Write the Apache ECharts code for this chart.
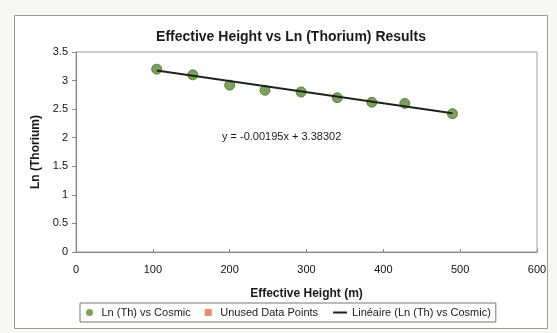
<!DOCTYPE html>
<html lang="en">
<head>
    <meta charset="UTF-8">
    <title>Effective Height vs Ln (Thorium) Results</title>
    <script src="https://cdn.jsdelivr.net/npm/echarts@6/dist/echarts.min.js"></script>
</head>
<body style="margin: 0; background: #f7f7f5">
    <div id="chart" style="width: 557px; height: 333px;"></div>
    <script>
        // values
        const heights = [105, 152, 200, 246, 293, 340, 385, 428, 490];
        const lnThorium = [3.2, 3.1, 2.92, 2.83, 2.8, 2.7, 2.62, 2.6, 2.42];
        const unusedPoints = [];
        // trend line end points as drawn
        const trendX = [105, 490];
        const trendY = [3.178, 2.428];
        const trendLabel = 'y = -0.00195x + 3.38302';

        const chart = echarts.init(document.getElementById('chart'));
        const font = 'Liberation Sans, Arial, sans-serif';

        const option = {
            animation: false,
            backgroundColor: 'transparent',
            title: {
                text: 'Effective Height vs Ln (Thorium) Results',
                left: 286, top: 25, textAlign: 'center',
                textStyle: { fontFamily: font, fontSize: 14, fontWeight: 'bold', color: '#1a1a1a' }
            },
            graphic: [
                {
                    type: 'rect', z: -10,
                    shape: { x: 14.5, y: 15.5, width: 533, height: 313 },
                    style: { fill: '#fff', stroke: '#9a9a9a', lineWidth: 1 }
                },
                {
                    type: 'text', left: 222, top: 131,
                    style: { text: trendLabel, font: '11px ' + font, fill: '#1a1a1a' }
                }
            ],
            grid: { left: 76, right: 20, top: 52, bottom: 81, show: true, borderColor: '#a0a0a0', borderWidth: 1 },
            xAxis: {
                type: 'value', min: 0, max: 600, interval: 100,
                name: 'Effective Height (m)', nameLocation: 'middle', nameGap: 36,
                nameTextStyle: { fontFamily: font, fontSize: 12, fontWeight: 'bold', color: '#1a1a1a' },
                axisLine: { show: true, lineStyle: { color: '#888' } },
                axisTick: { show: true, inside: true, length: 3, lineStyle: { color: '#888' } },
                splitLine: { show: false },
                axisLabel: { fontFamily: font, fontSize: 11, color: '#111', margin: 12 }
            },
            yAxis: {
                type: 'value', min: 0, max: 3.5, interval: 0.5,
                name: 'Ln (Thorium)', nameLocation: 'middle', nameGap: 32, nameRotate: 90,
                nameTextStyle: { fontFamily: font, fontSize: 12, fontWeight: 'bold', color: '#1a1a1a' },
                axisLine: { show: true, lineStyle: { color: '#888' } },
                axisTick: { show: true, length: 4, lineStyle: { color: '#888' } },
                splitLine: { show: false },
                axisLabel: { fontFamily: font, fontSize: 11, color: '#111', margin: 8 }
            },
            legend: {
                left: 80, top: 303,
                itemGap: 14, itemWidth: 14, itemHeight: 7,
                padding: [4, 5, 4, 6],
                borderColor: '#777', borderWidth: 1,
                textStyle: { fontFamily: font, fontSize: 11, color: '#1a1a1a' },
                data: [
                    { name: 'Ln (Th) vs Cosmic', icon: 'circle', itemStyle: { borderWidth: 0 } },
                    { name: 'Unused Data Points', icon: 'path://M0,0H1V1H0Z' },
                    { name: 'Linéaire (Ln (Th) vs Cosmic)', itemStyle: { opacity: 0 } }
                ]
            },
            series: [
                {
                    name: 'Linéaire (Ln (Th) vs Cosmic)',
                    type: 'line',
                    data: trendX.map((x, i) => [x, trendY[i]]),
                    symbol: 'none',
                    lineStyle: { color: '#1c2418', width: 2 },
                    itemStyle: { color: '#1c2418' },
                    z: 3
                },
                {
                    name: 'Ln (Th) vs Cosmic',
                    type: 'scatter',
                    data: heights.map((x, i) => [x, lnThorium[i]]),
                    symbolSize: 10,
                    itemStyle: { color: '#5b8a34', borderColor: '#46702a', borderWidth: 1 },
                    z: 2
                },
                {
                    name: 'Unused Data Points',
                    type: 'scatter',
                    data: unusedPoints,
                    symbol: 'rect',
                    itemStyle: { color: '#e0704a' }
                }
            ]
        };

        chart.setOption(option);
    </script>
</body>
</html>
